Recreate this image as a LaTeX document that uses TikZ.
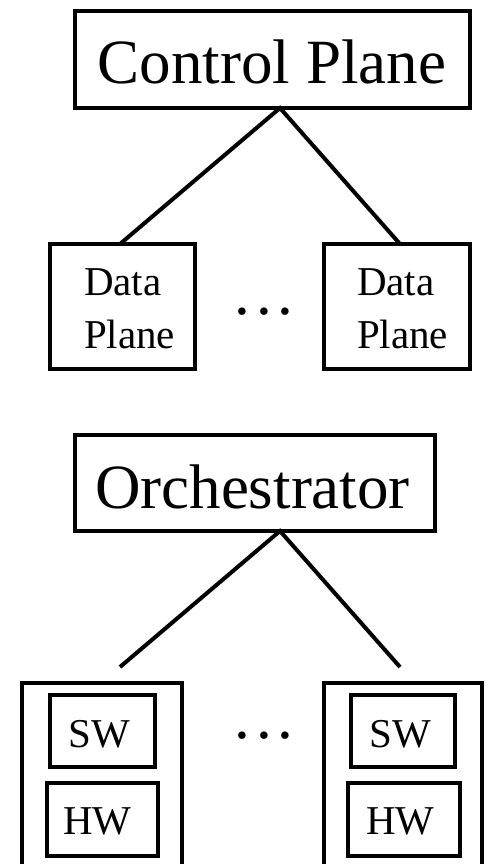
\documentclass[tikz,border=0pt]{standalone}
\usepackage{fontspec}
\setmainfont{Liberation Serif}
\newcommand{\spreaddots}{.\kern2.75pt.\kern2.75pt.}
\begin{document}
\begin{tikzpicture}[x=0.5pt,y=-0.5pt,line width=2pt,
  box/.style={draw,inner sep=0pt,outer sep=0pt},
  big/.style={font=\fontsize{31.5}{36}\selectfont,inner sep=0pt,anchor=base},
  small/.style={font=\fontsize{20.5}{26.5}\selectfont,inner sep=0pt},
  dotsnode/.style={font=\fontsize{31.5}{36}\selectfont,inner sep=0pt,anchor=base},
  link/.style={line width=2pt}]
\clip (0,0) rectangle (488,864);

% --- control plane / data planes ---
\node[box,minimum width=197.5pt,minimum height=48.5pt] (cp) at (272.5,59.5) {};
\node[big] (cptext) at (272,83) {Control Plane};
\node[box,minimum width=72.5pt,minimum height=62.5pt] (dpl) at (122.5,306.5) {};
\node[box,minimum width=73pt,minimum height=62.5pt] (dpr) at (397,306.5) {};
\node[small,anchor=base west,align=left] (dpltext) at (82,348) {Data\\Plane};
\node[small,anchor=base west,align=left] (dprtext) at (355,348) {Data\\Plane};
\node[dotsnode] (dpdots) at (264,314) {\spreaddots};

\coordinate (cpapex) at (280,108);
\coordinate (dpltop) at (120,244);
\coordinate (dprtop) at (400,244);
\draw[link] (dpltop) -- (cpapex) -- (dprtop);

% --- orchestrator / nodes with SW and HW ---
\node[box,minimum width=180pt,minimum height=48pt] (orch) at (255,483) {};
\node[big] (orchtext) at (252.5,508) {Orchestrator};

\node[box,minimum width=80pt,minimum height=91.25pt] (hostl) at (102,774.25) {};
\node[box,minimum width=79pt,minimum height=91.25pt] (hostr) at (403,774.25) {};

\node[box,minimum width=52.5pt,minimum height=36pt] (swl) at (102.5,731) {};
\node[box,minimum width=55.5pt,minimum height=36.5pt] (hwl) at (102.5,819.5) {};
\node[box,minimum width=52pt,minimum height=36pt] (swr) at (403,731) {};
\node[box,minimum width=56pt,minimum height=36.5pt] (hwr) at (404,819.5) {};

\node[small,anchor=base] (swltext) at (99,747) {SW};
\node[small,anchor=base] (hwltext) at (97.5,834) {HW};
\node[small,anchor=base] (swrtext) at (400.5,747) {SW};
\node[small,anchor=base] (hwrtext) at (400.5,834) {HW};
\node[dotsnode] (hostdots) at (264,738) {\spreaddots};

\coordinate (orchapex) at (280,531);
\coordinate (hostlend) at (120,667);
\coordinate (hostrend) at (400,667);
\draw[link] (hostlend) -- (orchapex) -- (hostrend);
\end{tikzpicture}
\end{document}
